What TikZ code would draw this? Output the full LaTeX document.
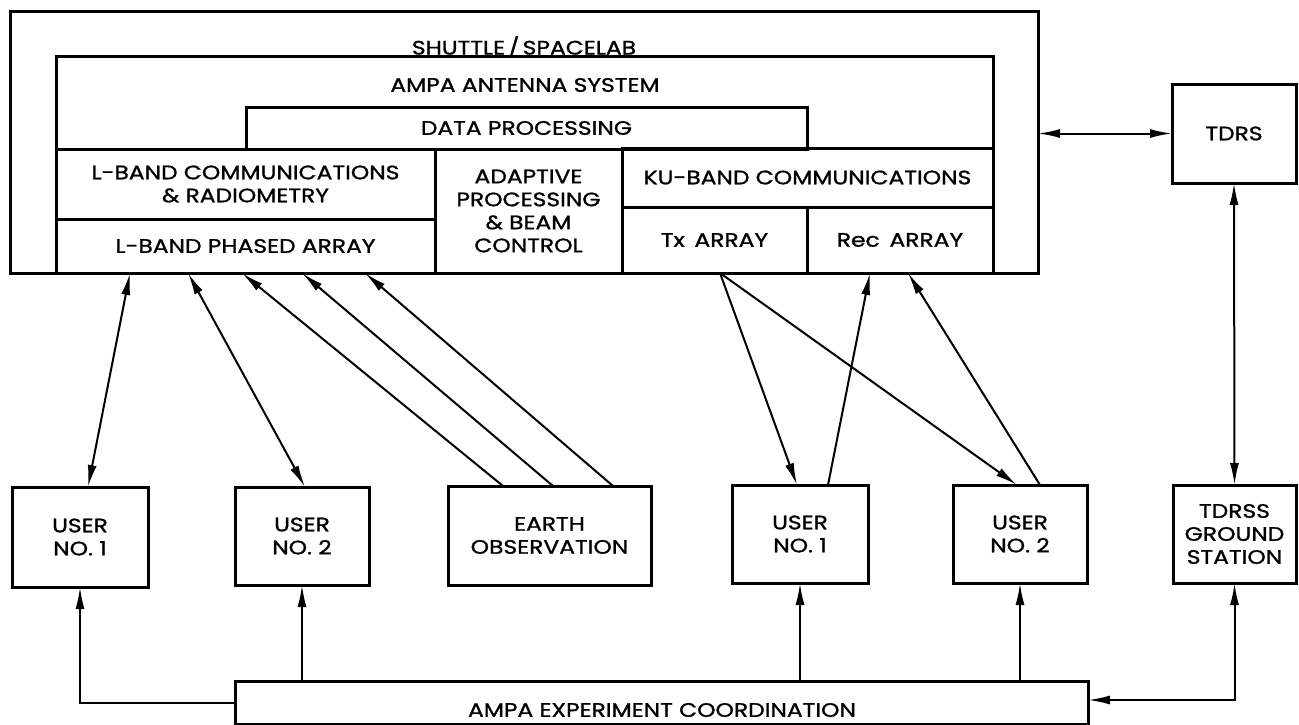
\documentclass[tikz,border=0pt]{standalone}
\usepackage{fontspec}
\setmainfont{Poppins}[FakeStretch=1.2, FakeBold=1.2]
\usetikzlibrary{arrows.meta,calc}
\newcommand\dlabelfont{\fontsize{19.5}{23}\selectfont}
\begin{document}
\begin{tikzpicture}[x=1pt,y=-1pt,
  box/.style={draw, line width=3pt, inner sep=0pt, outer sep=0pt, anchor=north west, align=center, font=\dlabelfont},
  lbl/.style={inner sep=0pt, align=center, font=\dlabelfont},
  arr/.style={line width=2pt, -{Latex[length=22pt,width=9pt]}},
  dbl/.style={line width=2pt, {Latex[length=22pt,width=9pt]}-{Latex[length=22pt,width=9pt]}},
]
\path[use as bounding box] (0,0) rectangle (1299,724);
% spacecraft
\node[box, minimum width=1028pt, minimum height=262pt] (shuttle) at (10,11) {};
\node[box, minimum width=937pt, minimum height=217pt] (ampa) at (56,56) {};
\node[box, minimum width=561pt, minimum height=42pt] (data) at (246,107) {DATA PROCESSING};
\node[box, minimum width=379pt, minimum height=70pt] (lcomm) at (56,149) {L-BAND COMMUNICATIONS\\\& RADIOMETRY};
\node[box, minimum width=379pt, minimum height=54pt] (pa) at (56,219) {L-BAND PHASED ARRAY};
\node[box, minimum width=187pt, minimum height=124pt] (adapt) at (435,149) {ADAPTIVE\\PROCESSING\\\& BEAM\\CONTROL};
\node[box, minimum width=371pt, minimum height=59pt] (ku) at (622,148) {KU-BAND COMMUNICATIONS};
\node[box, minimum width=185pt, minimum height=66pt] (tx) at (622,207) {Tx\hspace{0.5em}ARRAY};
\node[box, minimum width=186pt, minimum height=66pt] (rec) at (807,207) {Rec\hspace{0.5em}ARRAY};
\node[lbl] (shuttleT) at (524,47) {SHUTTLE\,/\,SPACELAB};
\node[lbl] (ampaT) at (525,85) {AMPA ANTENNA SYSTEM};
% TDRS
\node[box, minimum width=124pt, minimum height=99pt] (tdrs) at (1172,84) {TDRS};
% ground
\node[box, minimum width=136pt, minimum height=100pt] (u1) at (12,487) {USER\\NO. 1};
\node[box, minimum width=134pt, minimum height=98pt] (u2) at (235,487) {USER\\NO. 2};
\node[box, minimum width=203pt, minimum height=99pt] (earth) at (448,486) {EARTH\\OBSERVATION};
\node[box, minimum width=136pt, minimum height=98pt] (u3) at (732,485) {USER\\NO. 1};
\node[box, minimum width=134pt, minimum height=98pt] (u4) at (953,485) {USER\\NO. 2};
\node[box, minimum width=123pt, minimum height=98pt] (gs) at (1173,485) {TDRSS\\GROUND\\STATION};
\node[box, minimum width=853pt, minimum height=43pt] (coord) at (235,681) {};
\node[lbl] (coordT) at (662,710) {AMPA EXPERIMENT COORDINATION};
% links
\draw[dbl] ([xshift=76pt]u1.north west) -- ([xshift=74pt]pa.south west);
\draw[dbl] ([xshift=70pt]u2.north west) -- ([xshift=132pt]pa.south west);
\draw[arr] ([xshift=55pt]earth.north west) -- ([xshift=186pt]pa.south west);
\draw[arr] ([xshift=105pt]earth.north west) -- ([xshift=246pt]pa.south west);
\draw[arr] ([xshift=165pt]earth.north west) -- ([xshift=309pt]pa.south west);
\draw[arr] ([xshift=98pt]tx.south west) -- ([xshift=65pt]u3.north west);
\draw[arr] ([xshift=98pt]tx.south west) -- ([xshift=64pt]u4.north west);
\draw[arr] ([xshift=96pt]u3.north west) -- ([xshift=63pt]rec.south west);
\draw[arr] ([xshift=87pt]u4.north west) -- ([xshift=101pt]rec.south west);
\draw[dbl] (tdrs.west) -- (tdrs.west -| shuttle.east);
\draw[dbl] (tdrs.south) -- (gs.north);
\draw[dbl] (gs.south) |- ([yshift=-19pt]coord.north east);
\draw[arr] ([yshift=-22pt]coord.north west) -| (u1.south);
\draw[arr] (coord.north -| u2.south) -- (u2.south);
\draw[arr] (coord.north -| u3.south) -- (u3.south);
\draw[arr] (coord.north -| u4.south) -- (u4.south);
\end{tikzpicture}
\end{document}
